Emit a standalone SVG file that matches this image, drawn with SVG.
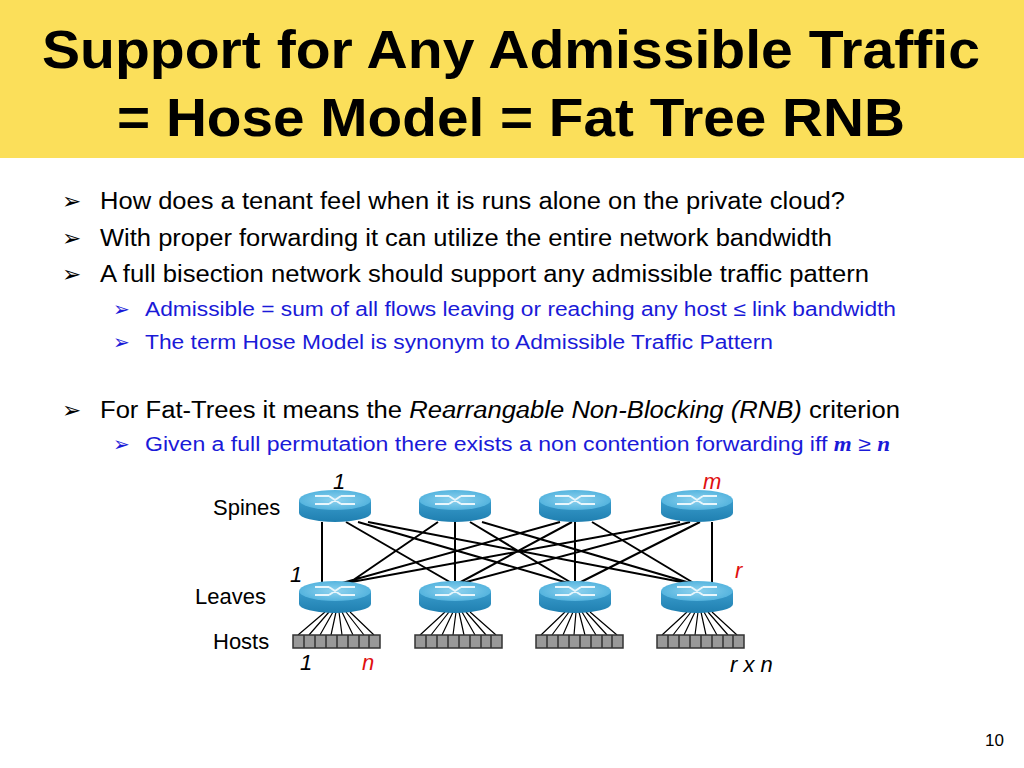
<svg xmlns="http://www.w3.org/2000/svg" width="1024" height="768" viewBox="0 0 1024 768">
<style>
.t{font-family:"Liberation Sans",Arial,sans-serif}
.b{font-size:23px;fill:#000}
.s{font-size:20px;fill:#1a1ad8}
.lbl{font-size:22px;fill:#000}
.ln{stroke:#000;stroke-width:2}
.hl{stroke:#000;stroke-width:1.2}
</style>
<defs>
<linearGradient id="side" x1="0" y1="0" x2="0" y2="1"><stop offset="0" stop-color="#3a9ccc"/><stop offset="1" stop-color="#1f7fb0"/></linearGradient>
<radialGradient id="top" cx="0.5" cy="0.5" r="0.6"><stop offset="0" stop-color="#8fd3ef"/><stop offset="1" stop-color="#4aaedb"/></radialGradient>
<g id="router">
<path d="M-36 0 V13 A36 9 0 0 0 36 13 V0 Z" fill="url(#side)"/>
<ellipse cx="0" cy="0" rx="36" ry="10" fill="url(#top)"/>
<g stroke="#e8f6fc" stroke-width="2" fill="none">
<path d="M-20 -4 H-6 M-20 4 H-6 M6 -4 H20 M6 4 H20 M-6 -4 L6 4 M-6 4 L6 -4"/>
</g>
</g>
<g id="hosts">
<rect x="0" y="0" width="87" height="13" fill="#999" stroke="#333" stroke-width="1.5"/>
<path d="M11 0V13M22 0V13M33 0V13M44 0V13M55 0V13M66 0V13M76 0V13" stroke="#333" stroke-width="1.5"/>
</g>
</defs>
<rect x="0" y="0" width="1024" height="158" fill="#fbdf5a"/>
<text class="t" x="42" y="68" textLength="938" lengthAdjust="spacingAndGlyphs" font-size="54" font-weight="bold">Support for Any Admissible Traffic</text>
<text class="t" x="117" y="136" textLength="788" lengthAdjust="spacingAndGlyphs" font-size="54" font-weight="bold">= Hose Model = Fat Tree RNB</text>
<g class="t">
<text class="b" x="62" y="209">➢</text><text class="b" x="100" y="209" textLength="745" lengthAdjust="spacingAndGlyphs">How does a tenant feel when it is runs alone on the private cloud?</text>
<text class="b" x="62" y="246">➢</text><text class="b" x="100" y="246" textLength="732" lengthAdjust="spacingAndGlyphs">With proper forwarding it can utilize the entire network bandwidth</text>
<text class="b" x="62" y="282">➢</text><text class="b" x="100" y="282" textLength="769" lengthAdjust="spacingAndGlyphs">A full bisection network should support any admissible traffic pattern</text>
<text class="s" x="113" y="316">➢</text><text class="s" x="145" y="316" textLength="751" lengthAdjust="spacingAndGlyphs">Admissible = sum of all flows leaving or reaching any host ≤ link bandwidth</text>
<text class="s" x="113" y="349">➢</text><text class="s" x="145" y="349" textLength="628" lengthAdjust="spacingAndGlyphs">The term Hose Model is synonym to Admissible Traffic Pattern</text>
<text class="b" x="62" y="418">➢</text><text class="b" x="100" y="418" textLength="800" lengthAdjust="spacingAndGlyphs">For Fat-Trees it means the <tspan font-style="italic">Rearrangable Non-Blocking (RNB)</tspan> criterion</text>
<text class="s" x="113" y="451">➢</text><text class="s" x="145" y="451" textLength="745" lengthAdjust="spacingAndGlyphs">Given a full permutation there exists a non contention forwarding iff <tspan font-family="Liberation Serif,serif" font-weight="bold" font-style="italic">m</tspan> ≥ <tspan font-family="Liberation Serif,serif" font-weight="bold" font-style="italic">n</tspan></text>
</g>
<g id="connectors">
<path class="ln" d="M322 522V585M346 522L455 585M358 522L575 585M368 522L697 585M438 522L346 585M455 522V585M470 522L575 585M482 522L697 585M560 522L335 585M572 522L455 585M575 522V585M592 522L697 585M680 522L335 585M690 522L455 585M700 522L575 585M712 522V585"/>
<path class="hl" d="M325 612L298 635M329 612L309 635M333 612L320 635M336 612L331 635M339 612L342 635M342 612L353 635M346 612L364 635M350 612L374 635"/>
<path class="hl" d="M445 612L420 635M449 612L431 635M453 612L442 635M456 612L453 635M459 612L464 635M462 612L475 635M466 612L486 635M470 612L496 635"/>
<path class="hl" d="M565 612L541 635M569 612L552 635M573 612L563 635M576 612L574 635M579 612L585 635M582 612L596 635M586 612L607 635M590 612L617 635"/>
<path class="hl" d="M687 612L662 635M691 612L673 635M695 612L684 635M698 612L695 635M701 612L706 635M704 612L717 635M708 612L728 635M712 612L737 635"/>
</g>
<g id="spine1"><use href="#router" x="335" y="500"/></g>
<g id="spine2"><use href="#router" x="455" y="500"/></g>
<g id="spine3"><use href="#router" x="575" y="500"/></g>
<g id="spine4"><use href="#router" x="697" y="500"/></g>
<g id="leaf1"><use href="#router" x="335" y="591"/></g>
<g id="leaf2"><use href="#router" x="455" y="591"/></g>
<g id="leaf3"><use href="#router" x="575" y="591"/></g>
<g id="leaf4"><use href="#router" x="697" y="591"/></g>
<g id="hosts1"><use href="#hosts" x="293" y="635"/></g>
<g id="hosts2"><use href="#hosts" x="415" y="635"/></g>
<g id="hosts3"><use href="#hosts" x="536" y="635"/></g>
<g id="hosts4"><use href="#hosts" x="657" y="635"/></g>
<g class="t lbl">
<text x="213" y="515">Spines</text>
<text x="195" y="604">Leaves</text>
<text x="213" y="649">Hosts</text>
<text x="333" y="489" font-style="italic">1</text>
<text x="703" y="489" font-style="italic" fill="#e01010">m</text>
<text x="290" y="582" font-style="italic">1</text>
<text x="735" y="578" font-style="italic" fill="#e01010">r</text>
<text x="300" y="670" font-style="italic">1</text>
<text x="362" y="670" font-style="italic" fill="#e01010">n</text>
<text x="730" y="672" font-style="italic">r x n</text>
<text x="985" y="746" font-size="17">10</text>
</g>
</svg>
